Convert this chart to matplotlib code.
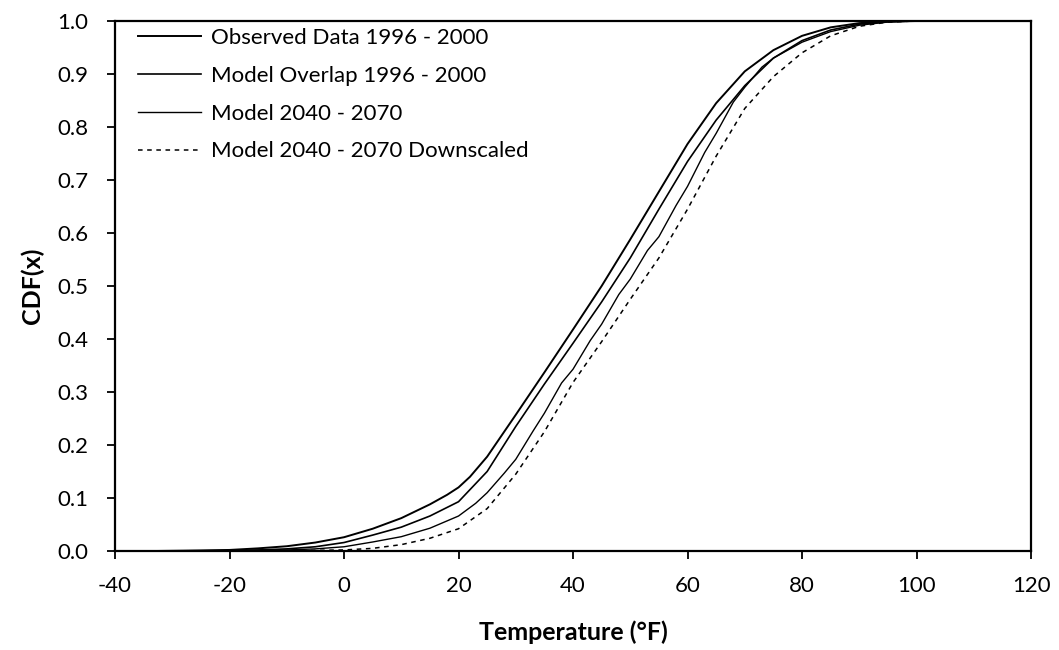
import matplotlib.pyplot as plt
from matplotlib.ticker import FormatStrFormatter

plt.rcParams['font.family'] = ['Lato', 'DejaVu Sans']
plt.rcParams['axes.unicode_minus'] = False

# CDF readings (temperature in F, cumulative fraction)
obs_t = [-33, -25, -20, -15, -10, -5, 0, 5, 10, 15, 18, 20, 22, 25, 30, 35, 40, 45,
         50, 55, 60, 65, 70, 75, 80, 85, 90, 95, 100, 120]
obs_cdf = [0.0, 0.001, 0.002, 0.005, 0.009, 0.016, 0.026, 0.042, 0.062, 0.088, 0.106,
           0.12, 0.14, 0.178, 0.257, 0.337, 0.418, 0.5, 0.588, 0.678, 0.768, 0.845,
           0.905, 0.945, 0.972, 0.988, 0.996, 0.999, 1.0, 1.0]

ovl_t = [-33, -25, -20, -15, -10, -5, 0, 5, 10, 15, 20, 25, 30, 35, 40, 45, 50, 55,
         60, 65, 70, 75, 80, 85, 90, 95, 100, 120]
ovl_cdf = [0.0, 0.0005, 0.001, 0.002, 0.004, 0.008, 0.016, 0.03, 0.045, 0.066, 0.093,
           0.15, 0.235, 0.315, 0.392, 0.47, 0.553, 0.645, 0.735, 0.813, 0.878, 0.93,
           0.963, 0.983, 0.994, 0.999, 1.0, 1.0]

fut_t = [-33, -20, -10, -5, 0, 5, 10, 15, 20, 23, 25, 28, 30, 33, 35, 38, 40, 43, 45,
         48, 50, 53, 55, 58, 60, 63, 65, 68, 70, 73, 75, 80, 85, 90, 95, 100, 120]
fut_cdf = [0.0, 0.0005, 0.002, 0.004, 0.008, 0.017, 0.027, 0.043, 0.066, 0.09, 0.11,
           0.147, 0.173, 0.226, 0.26, 0.317, 0.343, 0.397, 0.428, 0.484, 0.513, 0.567,
           0.593, 0.652, 0.688, 0.752, 0.788, 0.847, 0.875, 0.913, 0.93, 0.96, 0.98,
           0.992, 0.998, 1.0, 1.0]

dsc_t = [-33, -10, 0, 5, 10, 15, 20, 25, 30, 35, 40, 45, 50, 55, 60, 65, 70, 75, 80,
         85, 90, 95, 100, 120]
dsc_cdf = [0.0, 0.0005, 0.002, 0.005, 0.012, 0.024, 0.042, 0.08, 0.145, 0.225, 0.318,
           0.395, 0.475, 0.553, 0.645, 0.745, 0.835, 0.895, 0.94, 0.972, 0.99, 0.998,
           1.0, 1.0]

x_ticks = [-40, -20, 0, 20, 40, 60, 80, 100, 120]
y_ticks = [0.0, 0.1, 0.2, 0.3, 0.4, 0.5, 0.6, 0.7, 0.8, 0.9, 1.0]

fig = plt.figure(figsize=(10.59, 6.5), dpi=100)
ax = fig.add_axes([0.1086, 0.1523, 0.8650, 0.8154])

ax.plot(obs_t, obs_cdf, color='black', lw=1.4, label='Observed Data 1996 - 2000')
ax.plot(ovl_t, ovl_cdf, color='black', lw=1.2, label='Model Overlap 1996 - 2000')
ax.plot(fut_t, fut_cdf, color='black', lw=1.0, label='Model 2040 - 2070')
ax.plot(dsc_t, dsc_cdf, color='black', lw=1.1, dashes=(3, 3),
        label='Model 2040 - 2070 Downscaled')

ax.set_xlim(-40, 120)
ax.set_ylim(0, 1)
ax.set_xticks(x_ticks)
ax.set_yticks(y_ticks)
ax.yaxis.set_major_formatter(FormatStrFormatter('%.1f'))
ax.tick_params(direction='out', length=6, width=1.3, labelsize=16, colors='black')
ax.tick_params(axis='y', pad=13)
ax.tick_params(axis='x', pad=12)
for s in ax.spines.values():
    s.set_linewidth(1.6)

ax.set_xlabel('Temperature (°F)', fontsize=18, fontweight='bold', va='center')
ax.set_ylabel('CDF(x)', fontsize=18, fontweight='bold', va='center')
ax.xaxis.set_label_coords(0.5, -0.153)
ax.yaxis.set_label_coords(-0.0906, 0.5)

ax.legend(loc='upper left', frameon=False, fontsize=16, handlelength=2.85,
          handletextpad=0.45, labelspacing=0.8, borderaxespad=0.3,
          bbox_to_anchor=(0.008, 1.016))

fig.savefig('out.png', dpi=100)
